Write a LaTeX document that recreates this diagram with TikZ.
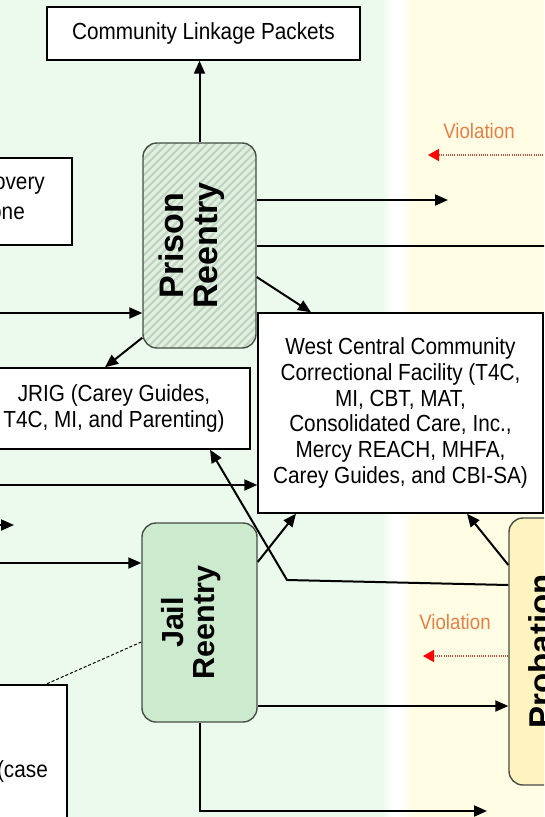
\documentclass[tikz,border=0pt]{standalone}
\usepackage{fontspec}
\setmainfont{Liberation Sans}[FakeStretch = 0.89]
\newfontfamily\uprightsans{Liberation Sans}
\usepackage{graphicx}
\usetikzlibrary{arrows.meta}

\definecolor{greenbg}{RGB}{235,250,236}
\definecolor{yellowbg}{RGB}{255,253,227}
\definecolor{hatchbg}{RGB}{224,241,224}
\definecolor{hatchline}{RGB}{196,212,196}
\definecolor{jailfill}{RGB}{204,234,206}
\definecolor{probfill}{RGB}{255,244,192}
\definecolor{edge}{RGB}{70,78,70}
\definecolor{violtext}{RGB}{226,128,72}
\definecolor{violline}{RGB}{190,80,60}

\newcommand{\boxfont}{\fontsize{23.3}{25.8}\selectfont}

\begin{document}
\begin{tikzpicture}[
    x = 1pt, y = -1pt,
    plainbox/.style = {draw = black, line width = 1.4pt, fill = white,
      inner sep = 0pt, align = center, font = \boxfont},
    reentry/.style = {draw = edge, line width = 1.4pt, rounded corners = 14pt,
      inner sep = 0pt},
    arr/.style = {line width = 2pt, -{Triangle[length = 13pt, width = 11pt]}},
    viol/.style = {violline, line width = 1.5pt, dash pattern = on 1pt off 1.2pt,
      -{Triangle[length = 11pt, width = 12pt, color = red]}},
    violnote/.style = {text = violtext, inner sep = 0pt,
      font = \fontsize{21}{24}\selectfont}
  ]
  \useasboundingbox (0, 0) rectangle (544, 817);
  \clip (0, 0) rectangle (544, 817);

  % background bands
  \fill[greenbg] (0, 0) rectangle (382, 817);
  \shade[left color = greenbg, right color = white] (382, 0) rectangle (392, 817);
  \fill[white] (392, 0) rectangle (400, 817);
  \shade[left color = white, right color = yellowbg] (400, 0) rectangle (412, 817);
  \fill[yellowbg] (412, 0) rectangle (544, 817);

  % boxes
  \node[plainbox, minimum width = 313pt, minimum height = 53pt]
    (linkage) at (203.5, 33.5) {Community Linkage Packets};
  \node[plainbox, minimum width = 144pt, minimum height = 87pt]
    (recovery) at (0, 201.5) {};
  \node[anchor = east, inner sep = 0pt, font = \boxfont]
    (recoverytop) at (45, 186) {overy};
  \node[anchor = east, inner sep = 0pt, font = \boxfont]
    (recoverybot) at (25, 213) {one};
  \node[plainbox, minimum width = 272pt, minimum height = 81pt]
    (jrig) at (114, 408.5) {JRIG (Carey Guides,\\T4C, MI, and Parenting)};
  \node[plainbox, minimum width = 285pt, minimum height = 200pt]
    (wcccf) at (400.5, 413) {West Central Community\\Correctional Facility (T4C,\\
      MI, CBT, MAT,\\Consolidated Care, Inc.,\\Mercy REACH, MHFA,\\
      Carey Guides, and CBI-SA)};
  \node[plainbox, minimum width = 107pt, minimum height = 175pt]
    (casebox) at (13.5, 772.5) {};
  \node[anchor = east, inner sep = 0pt, font = \boxfont]
    (casetext) at (48, 771) {(case};

  % reentry and probation blocks
  \node[reentry, fill = hatchbg, minimum width = 113pt, minimum height = 205pt,
    font = \uprightsans\fontsize{34}{34}\selectfont\bfseries,
    path picture = {
      \foreach \k in {0, 1, ..., 45}
        \draw[hatchline, line width = 2.2pt]
          ([xshift = \k * 8pt - 220pt] path picture bounding box.south west)
          -- ++(230pt, 230pt);
    }]
    (prison) at (199.5, 245.5)
    {\rotatebox{90}{\begin{tabular}{@{}c@{}}Prison\\Reentry\end{tabular}}\hspace*{12pt}};
  \node[reentry, fill = jailfill, minimum width = 115pt, minimum height = 199pt,
    font = \uprightsans\fontsize{30.5}{31}\selectfont\bfseries]
    (jail) at (199.5, 622.5)
    {\rotatebox{90}{\begin{tabular}{@{}c@{}}Jail\\Reentry\end{tabular}}\hspace*{14pt}};
  \node[reentry, fill = probfill, minimum width = 64pt, minimum height = 267pt,
    font = \uprightsans\fontsize{33}{34}\selectfont\bfseries]
    (prob) at (541, 651.5) {\rotatebox{90}{Probation}};

  % connectors on the left
  \draw[arr] (prison.north) -- (prison.north |- linkage.south);
  \coordinate (feedprison) at (-5, 313);
  \draw[arr] (feedprison) -- (feedprison -| prison.west);
  \draw[arr] ([yshift = 11pt] prison.south west) -- ([xshift = -9pt] jrig.north);
  \coordinate (feedwcccf) at (-5, 485);
  \draw[arr] (feedwcccf) -- (feedwcccf -| wcccf.west);
  \coordinate (stubstart) at (-20, 525);
  \coordinate (stubend) at (14, 525);
  \draw[arr] (stubstart) -- (stubend);
  \coordinate (feedjail) at (-5, 563);
  \draw[arr] (feedjail) -- (feedjail -| jail.west);
  \draw[line width = 1pt, densely dashed]
    ([yshift = -19.5pt] jail.west) -- ([xshift = -22pt] casebox.north east);

  % prison outputs
  \coordinate (prisonout) at (448, 200);
  \draw[arr] (prisonout -| prison.east) -- (prisonout);
  \coordinate (prisonrun) at (550, 245.5);
  \draw[line width = 2pt] (prison.east) -- (prisonrun);
  \draw[arr] ([yshift = -31.5pt] prison.east) -- ([xshift = -89.5pt] wcccf.north);

  \node[violnote] (violtop) at (479, 131) {Violation};
  \coordinate (violtopstart) at (550, 155);
  \coordinate (violtopend) at (428, 155);
  \draw[viol] (violtopstart) -- (violtopend);

  % jail and probation
  \draw[arr] ([yshift = 60.5pt] jail.east) -- ([xshift = -104.5pt] wcccf.south);
  \coordinate (bend) at (287, 580);
  \draw[arr] ([yshift = 66.5pt] prob.west) -- (bend) -- ([xshift = 96pt] jrig.south);
  \draw[arr] ([yshift = 86.5pt] prob.west) -- ([xshift = 66.5pt] wcccf.south);

  \node[violnote] (violbot) at (455, 622) {Violation};
  \coordinate (violbotend) at (423, 656);
  \draw[viol] (violbotend -| prob.west) -- (violbotend);

  \coordinate (jailprob) at (0, 706);
  \draw[arr] (jailprob -| jail.east) -- (jailprob -| prob.west);
  \coordinate (jailout) at (487, 811);
  \draw[arr] (jail.south) |- (jailout);
\end{tikzpicture}
\end{document}
